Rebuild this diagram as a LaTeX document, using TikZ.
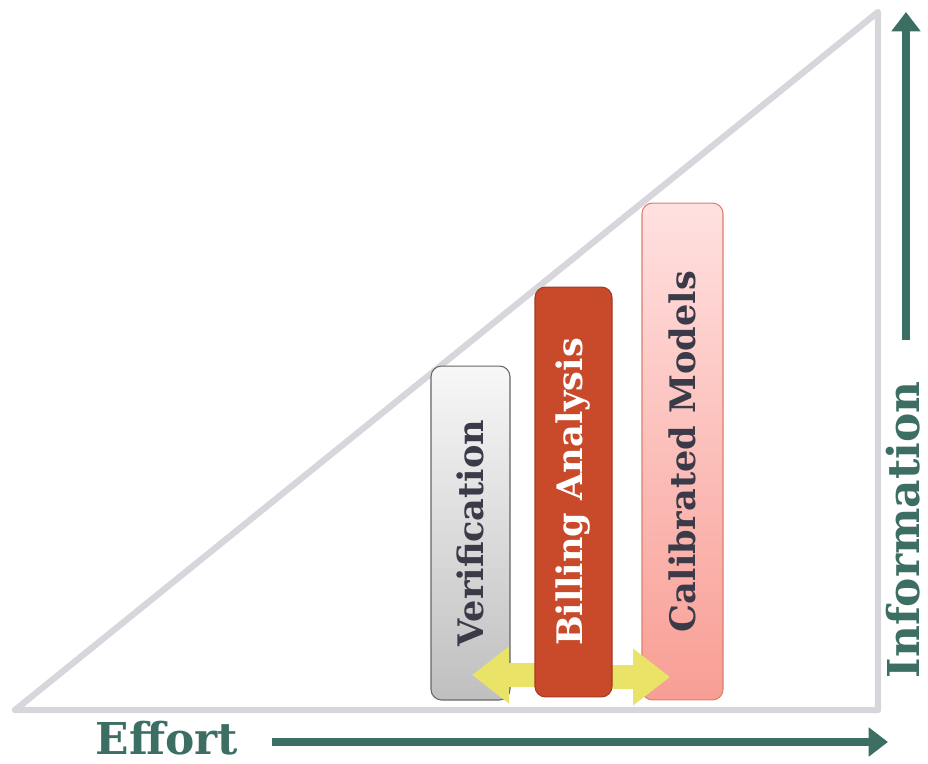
\documentclass[tikz,border=0pt]{standalone}
\usepackage{fontspec}
\setmainfont{DejaVu Serif}
\usetikzlibrary{arrows.meta}

\definecolor{rim}{RGB}{214,214,220}
\definecolor{teal}{RGB}{60,110,99}
\definecolor{brick}{RGB}{200,74,43}
\definecolor{inkgray}{RGB}{58,58,72}
\definecolor{lemon}{RGB}{233,228,104}
\definecolor{salmon}{RGB}{248,158,148}

\begin{document}
\begin{tikzpicture}[x=0.02cm, y=-0.02cm]
	\tikzstyle{bar}=[draw, rounded corners=6pt, line width=0.6pt, inner sep=0pt]
	\tikzstyle{barlabel}=[rotate=90, font=\bfseries\fontsize{20}{20}\selectfont]
	\tikzstyle{axislabel}=[text=teal, inner sep=0pt, font=\bfseries\fontsize{25}{25}\selectfont]
	\tikzstyle{swap}=[lemon, line width=14pt, -{Triangle[length=21pt, width=31pt]}]
	\useasboundingbox (0,0) rectangle (928,763);
	% the triangle
	\coordinate (corner1) at (15,710);
	\coordinate (corner2) at (878,710);
	\coordinate (corner3) at (878,12);
	\draw[rim, line width=3.6pt, line join=round] (corner1) -- (corner2) -- (corner3) -- cycle;
	% the three bars
	\node (verif) [bar, draw=gray!80!black, top color=gray!6, bottom color=gray!50, minimum width=1.58cm, minimum height=6.68cm] at (470.5,533) {};
	\node (calib) [bar, draw=brick!70, top color=red!12, bottom color=salmon, minimum width=1.62cm, minimum height=9.94cm] at (682.5,451.5) {};
	\coordinate (leftfrom) at (550,675);
	\coordinate (leftto) at (472,675);
	\coordinate (rightfrom) at (598,677);
	\coordinate (rightto) at (670,677);
	\draw[swap] (leftfrom) -- (leftto);
	\draw[swap] (rightfrom) -- (rightto);
	\node (bill) [bar, draw=brick!80!black, fill=brick, minimum width=1.54cm, minimum height=8.2cm] at (573.5,492) {};
	\node [barlabel, text=inkgray] at (verif.center) {Verification};
	\node [barlabel, text=white] at (bill.center) {Billing Analysis};
	\node [barlabel, text=inkgray] at (calib.center) {Calibrated Models};
	% axes
	\node (effort) [axislabel] at (167,738) {Effort};
	\node (info) [axislabel, rotate=90] at (903,530) {Information};
	\coordinate (effortend) at (888,742);
	\coordinate (infoend) at (906,12);
	\draw[teal, line width=4.5pt, -{Triangle[length=11pt, width=16pt]}] (272,742) -- (effortend);
	\draw[teal, line width=4.5pt, -{Triangle[length=11pt, width=16pt]}] (906,340) -- (infoend);
\end{tikzpicture}
\end{document}
